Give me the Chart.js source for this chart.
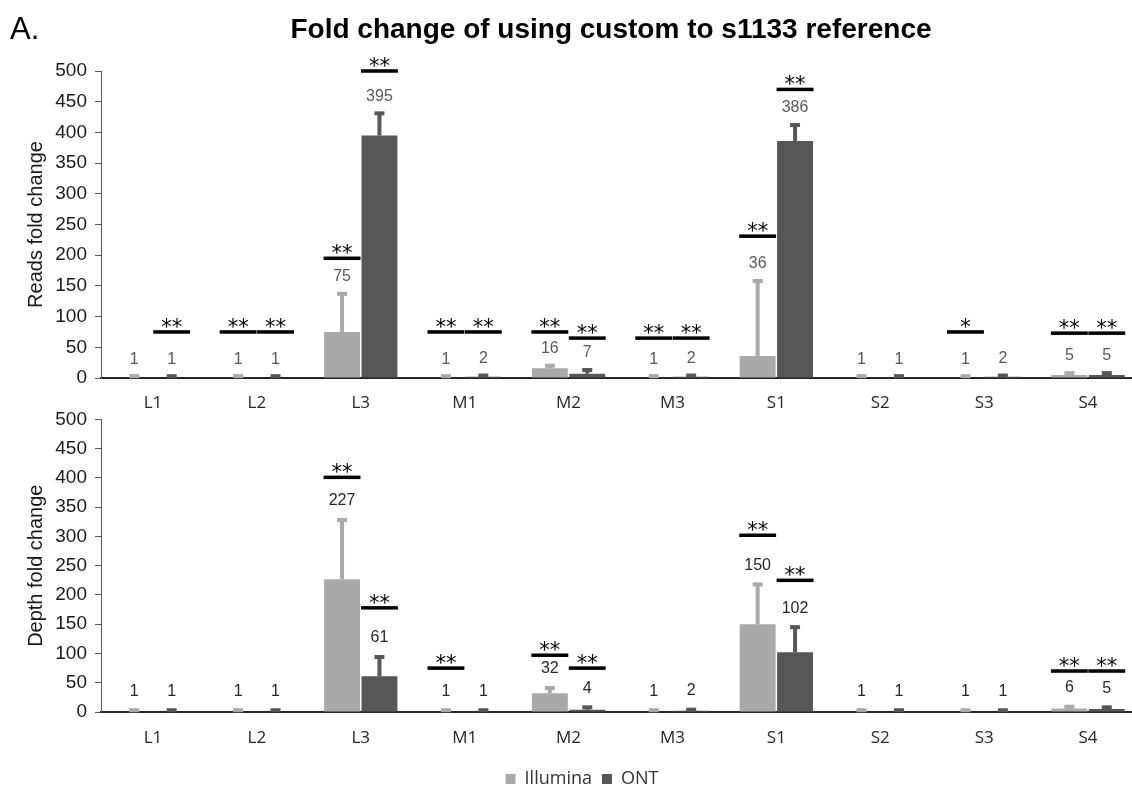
<!DOCTYPE html>
<html>
<head>
<meta charset="utf-8">
<script src="https://cdn.jsdelivr.net/npm/chart.js@4.4.1/dist/chart.umd.min.js"></script>
<style>
  html, body { margin: 0; padding: 0; background: #fff; overflow: hidden; }
  #page { position: relative; width: 1132px; height: 787px; overflow: hidden; }
  #panel { position: absolute; left: 10px; top: 11px; font: 31px "Liberation Sans", Arial, sans-serif; color: #000; }
  #title { position: absolute; left: 611px; top: 13px; transform: translateX(-50%); white-space: nowrap;
           font: bold 28px "Liberation Sans", Arial, sans-serif; color: #000; }
  canvas { position: absolute; left: 0; }
  #reads { top: 0; }
  #depth { top: 400px; }
</style>
</head>
<body>
<div id="page">
  <canvas id="reads" width="1166" height="418"></canvas>
  <canvas id="depth" width="1166" height="398"></canvas>
  <div id="panel">A.</div>
  <div id="title">Fold change of using custom to s1133 reference</div>
</div>
<script>
// Categories
const samples = ["L1", "L2", "L3", "M1", "M2", "M3", "S1", "S2", "S3", "S4"];

// Reads fold change (top panel)
const readsIllumina = [1, 1, 75, 1, 16, 1, 36, 1, 1, 5];
const readsONT = [1, 1, 395, 2, 7, 2, 386, 1, 2, 5];
const readsIlluminaErr = [2, 2, 62, 2, 4, 2, 122, 2, 2, 3];
const readsONTErr = [2, 2, 36, 2, 6, 2, 26, 2, 2, 3];
// significance marks and the value the bar above them sits at
const readsIlluminaSig = ["", "**", "**", "**", "**", "**", "**", "", "*", "**"];
const readsIlluminaSigAt = [0, 75, 195, 75, 75, 65, 231, 0, 75, 73];
const readsONTSig = ["**", "**", "**", "**", "**", "**", "**", "", "", "**"];
const readsONTSigAt = [75, 75, 500, 75, 65, 65, 470, 0, 0, 73];

// Depth fold change (bottom panel)
const depthIllumina = [1, 1, 227, 1, 32, 1, 150, 1, 1, 6];
const depthONT = [1, 1, 61, 1, 4, 2, 102, 1, 1, 5];
const depthIlluminaErr = [2, 2, 101, 2, 9, 2, 68, 2, 2, 3];
const depthONTErr = [2, 2, 33, 2, 4, 2, 43, 2, 2, 3];
const depthIlluminaSig = ["", "", "**", "**", "**", "", "**", "", "", "**"];
const depthIlluminaSigAt = [0, 0, 401, 75, 97, 0, 302, 0, 0, 70];
const depthONTSig = ["", "", "**", "", "**", "", "**", "", "", "**"];
const depthONTSigAt = [0, 0, 178, 0, 75, 0, 225, 0, 0, 70];

const yTicks = { min: 0, max: 500, step: 50 };

const ILLUMINA = "#a9a9a9";
const ONT = "#575757";

// error bars, value labels and significance bars drawn on top of the bars
const overlay = {
  id: "overlay",
  afterLayout(chart) {
    // legend sits a little right of the canvas centre in the original
    if (chart.legend && chart.legend.options.display) {
      chart.legend.left += 12;
      chart.legend.right += 12;
    }
  },
  afterDatasetsDraw(chart, args, opts) {
    const { ctx } = chart;
    const y = chart.scales.y;
    chart.data.datasets.forEach((ds, di) => {
      const meta = chart.getDatasetMeta(di);
      meta.data.forEach((bar, i) => {
        const v = ds.data[i];
        const top = y.getPixelForValue(v + ds.errors[i]);
        ctx.save();
        ctx.strokeStyle = ds.backgroundColor;
        ctx.fillStyle = ds.backgroundColor;
        ctx.lineWidth = 4;
        ctx.beginPath();
        ctx.moveTo(bar.x, bar.y);
        ctx.lineTo(bar.x, top);
        ctx.stroke();
        ctx.fillRect(bar.x - 5, top - 2, 10, 4);

        ctx.fillStyle = opts.labelColor;
        ctx.font = '16px "Liberation Sans", Arial, sans-serif';
        ctx.textAlign = "center";
        ctx.textBaseline = "middle";
        ctx.fillText(String(v), bar.x, top - opts.labelGap);

        if (ds.sig[i]) {
          const ys = y.getPixelForValue(ds.sigAt[i]);
          ctx.fillStyle = "#000";
          ctx.fillRect(bar.x - bar.width / 2 - 0.5, ys - 1.75, bar.width + 1, 3.5);
          ctx.font = '21px "DejaVu Sans", sans-serif';
          ctx.textBaseline = "alphabetic";
          ctx.fillText(ds.sig[i], bar.x, ys + 2);
        }
        ctx.restore();
      });
    });
  }
};

function makeChart(id, opts) {
  return new Chart(document.getElementById(id), {
    type: "bar",
    data: {
      labels: samples,
      datasets: [
        { label: "Illumina", data: opts.illumina, errors: opts.illuminaErr, sig: opts.illuminaSig, sigAt: opts.illuminaSigAt,
          backgroundColor: ILLUMINA, categoryPercentage: 0.72, barPercentage: 0.96 },
        { label: "ONT", data: opts.ont, errors: opts.ontErr, sig: opts.ontSig, sigAt: opts.ontSigAt,
          backgroundColor: ONT, categoryPercentage: 0.72, barPercentage: 0.96 }
      ]
    },
    plugins: [overlay],
    options: {
      responsive: false,
      animation: false,
      layout: { padding: { top: opts.padTop, right: 26, left: 0, bottom: 0 } },
      plugins: {
        legend: {
          display: opts.legend,
          position: "bottom",
          labels: {
            boxWidth: 10, boxHeight: 10, padding: 10, color: "#333",
            font: { family: '"Open Sans", sans-serif', size: 18 }
          }
        },
        tooltip: { enabled: false },
        overlay: { labelGap: opts.labelGap, labelColor: opts.labelColor }
      },
      scales: {
        x: {
          afterFit: (s) => { s.height = opts.xHeight; },
          grid: { display: false, drawTicks: false },
          border: { display: true, color: "#262626", width: 2 },
          ticks: { color: "#262626", padding: opts.xPad, font: { family: '"Open Sans", sans-serif', size: 17 } }
        },
        y: {
          min: yTicks.min, max: yTicks.max,
          afterFit: (s) => { s.width = 101; },
          grid: { drawOnChartArea: false, drawTicks: true, tickLength: 6, color: "#595959", lineWidth: 1 },
          border: { display: true, color: "#595959", width: 1 },
          ticks: { stepSize: yTicks.step, color: "#1a1a1a", padding: 8,
                   font: { family: '"Liberation Sans", Arial, sans-serif', size: 19 } },
          title: { display: true, text: opts.yTitle, color: "#1a1a1a", padding: { top: 24, bottom: 0 },
                   font: { family: '"Liberation Sans", Arial, sans-serif', size: 20 } }
        }
      }
    }
  });
}

makeChart("reads", {
  illumina: readsIllumina, ont: readsONT, illuminaErr: readsIlluminaErr, ontErr: readsONTErr,
  illuminaSig: readsIlluminaSig, illuminaSigAt: readsIlluminaSigAt, ontSig: readsONTSig, ontSigAt: readsONTSigAt,
  yTitle: "Reads fold change", padTop: 71, xHeight: 40, xPad: 15, legend: false,
  labelGap: 17, labelColor: "#595959"
});

makeChart("depth", {
  illumina: depthIllumina, ont: depthONT, illuminaErr: depthIlluminaErr, ontErr: depthONTErr,
  illuminaSig: depthIlluminaSig, illuminaSigAt: depthIlluminaSigAt, ontSig: depthONTSig, ontSigAt: depthONTSigAt,
  yTitle: "Depth fold change", padTop: 19, xHeight: 48, xPad: 16, legend: true,
  labelGap: 19, labelColor: "#262626"
});
</script>
</body>
</html>
